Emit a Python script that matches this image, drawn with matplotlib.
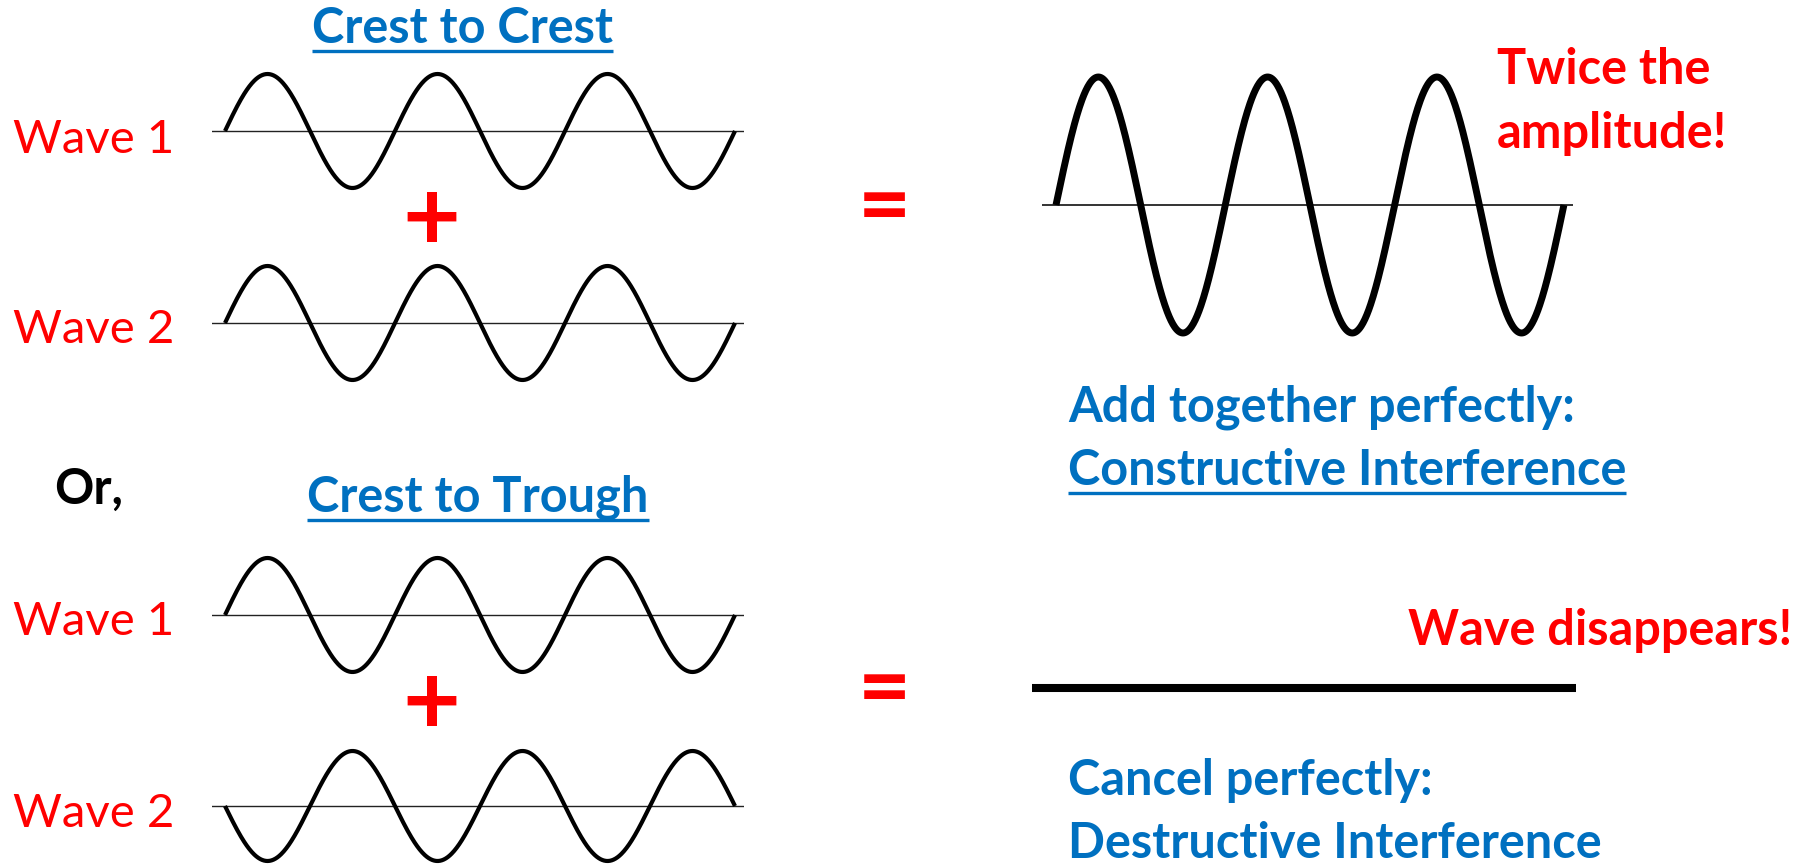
import numpy as np
from matplotlib import pyplot as plt

W, H = 1810, 864

# wave data: amplitude, phase (radians), number of cycles
cycles = 3
amp_1 = 1.0
amp_2 = 1.0
phase_crest_to_crest = [0.0, 0.0]
phase_crest_to_trough = [0.0, np.pi]

titles = ["Crest to Crest", "Crest to Trough"]
wave_labels = ["Wave 1", "Wave 2"]
result_labels = [["Add together perfectly:", "Constructive Interference"],
                 ["Cancel perfectly:", "Destructive Interference"]]
notes = [["Twice the", "amplitude!"], ["Wave disappears!"]]

RED = "#FF0000"
BLUE = "#0070C0"
FONT = "Lato"
BOLD_SIZE = 35

fig = plt.figure(figsize=(W / 100, H / 100), dpi=100)
bg = fig.add_axes([0, 0, 1, 1])
bg.set_xlim(0, W)
bg.set_ylim(H, 0)
bg.axis("off")


def wave_axes(left, right, start, period, base, half, px_per_unit):
    # axes in pixel box, data in cycles / amplitude units
    ax = fig.add_axes([left / W, 1 - (base + half) / H, (right - left) / W, 2 * half / H])
    ax.set_xlim((left - start) / period, (right - start) / period)
    ax.set_ylim(-half / px_per_unit, half / px_per_unit)
    ax.axis("off")
    return ax


def wave(x, amp, phase):
    return amp * np.sin(2 * np.pi * x + phase)


x = np.linspace(0, cycles, 800)

# input waves, left column
rows = [(131, 57, phase_crest_to_crest[0], amp_1),
        (323, 57, phase_crest_to_crest[1], amp_2),
        (615, 57, phase_crest_to_trough[0], amp_1),
        (806, 55, phase_crest_to_trough[1], amp_2)]
for base, ppu, ph, a in rows:
    ax = wave_axes(212, 744, 225, 170, base, 75, ppu)
    ax.axhline(0, color="#222222", lw=1.0)
    ax.plot(x, wave(x, a, ph), color="black", lw=3.0, solid_capstyle="butt")

# constructive result
ax = wave_axes(1042, 1573, 1056, 169.3, 205, 150, 64)
ax.axhline(0, color="#333333", lw=1.4)
total = wave(x, amp_1, phase_crest_to_crest[0]) + wave(x, amp_2, phase_crest_to_crest[1])
ax.plot(x, total, color="black", lw=5.0, solid_capstyle="butt")

# destructive result
ax = wave_axes(1032, 1576, 1056, 169.3, 688, 60, 64)
xf = np.linspace(*ax.get_xlim(), 800)
total = wave(xf, amp_1, phase_crest_to_trough[0]) + wave(xf, amp_2, phase_crest_to_trough[1])
ax.plot(xf, total, color="black", lw=5.8, solid_capstyle="butt")

# text
under = []
under.append(bg.text(462, 43, titles[0], color=BLUE, fontsize=BOLD_SIZE, fontweight="bold",
                     family=FONT, ha="center", va="baseline"))
under.append(bg.text(478, 512, titles[1], color=BLUE, fontsize=BOLD_SIZE, fontweight="bold",
                     family=FONT, ha="center", va="baseline"))
for yb, lab in zip([153, 343, 635, 827], wave_labels * 2):
    bg.text(13, yb, lab, color=RED, fontsize=34, family=FONT, va="baseline")
for yc in [221, 705]:
    bg.text(431, yc, "+", color=RED, fontsize=72, fontweight="bold", family=FONT,
            ha="center", va="center")
for yc in [210, 692]:
    bg.text(884, yc, "=", color=RED, fontsize=66, fontweight="bold", family=FONT,
            ha="center", va="center")
bg.text(54, 504, "Or,", color="black", fontsize=BOLD_SIZE, fontweight="bold", family=FONT,
        va="baseline")

bg.text(1497, 84, notes[0][0], color=RED, fontsize=BOLD_SIZE, fontweight="bold", family=FONT,
        va="baseline")
bg.text(1497, 148, notes[0][1], color=RED, fontsize=BOLD_SIZE, fontweight="bold", family=FONT,
        va="baseline")
bg.text(1792, 645, notes[1][0], color=RED, fontsize=BOLD_SIZE, fontweight="bold", family=FONT,
        va="baseline", ha="right")

bg.text(1068, 422, result_labels[0][0], color=BLUE, fontsize=BOLD_SIZE, fontweight="bold",
        family=FONT, va="baseline")
under.append(bg.text(1068, 485, result_labels[0][1], color=BLUE, fontsize=BOLD_SIZE,
                     fontweight="bold", family=FONT, va="baseline"))
bg.text(1068, 795, result_labels[1][0], color=BLUE, fontsize=BOLD_SIZE, fontweight="bold",
        family=FONT, va="baseline")
bg.text(1068, 858, result_labels[1][1], color=BLUE, fontsize=BOLD_SIZE, fontweight="bold",
        family=FONT, va="baseline")

# underlines from text extents
fig.canvas.draw()
inv = bg.transData.inverted()
for t in under:
    bb = t.get_window_extent()
    (x0, _), (x1, _) = inv.transform([[bb.x0, bb.y0], [bb.x1, bb.y0]])
    yb = t.get_position()[1] + 8
    bg.plot([x0, x1], [yb, yb], color=BLUE, lw=2.4, solid_capstyle="butt")

fig.savefig("out.png", dpi=100, facecolor="white")
